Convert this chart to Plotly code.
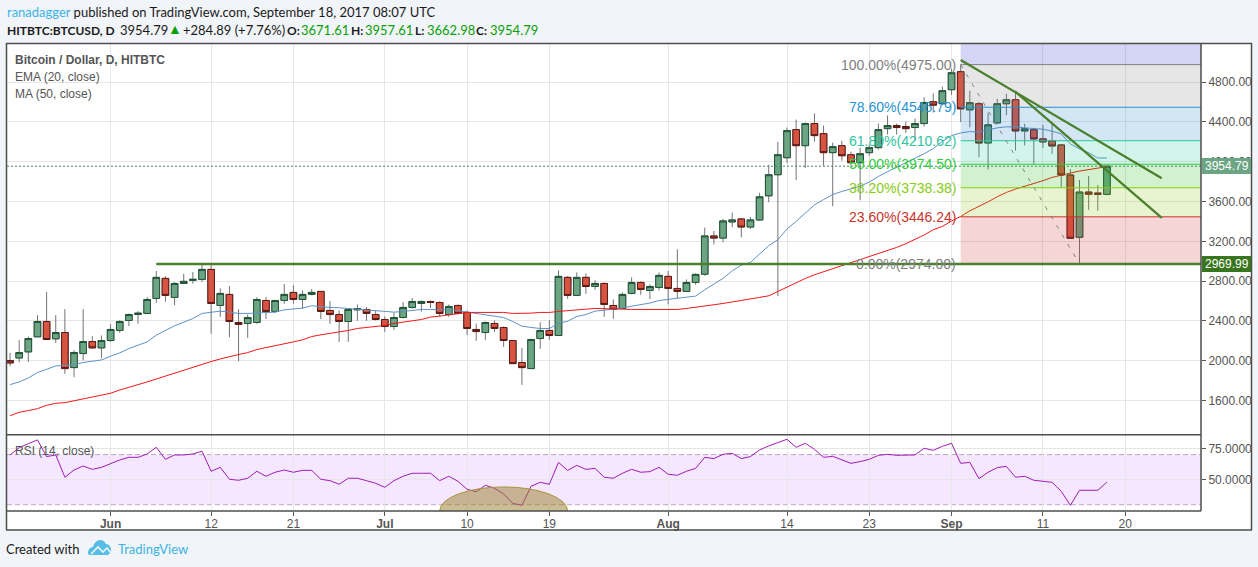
import pandas as pd
import plotly.graph_objects as go

DATES = pd.date_range("2017-05-21", "2017-09-18", freq="D").strftime("%Y-%m-%d").tolist()

OPEN = [2003,2029,2090,2241,2395,2221,2284,1932,2073,2194,2130,2204,2305,2405,2465,2476,2626,2828,2637,2777,
        2808,2818,2918,2556,2667,2385,2375,2385,2606,2496,2606,2687,2616,2667,2697,2506,2465,2395,2512,2516,
        2465,2415,2345,2435,2536,2576,2596,2586,2465,2556,2486,2315,2284,2375,2335,2204,1983,1922,2224,2305,
        2254,2838,2657,2838,2747,2777,2556,2526,2677,2787,2707,2737,2848,2727,2697,2787,2870,3254,3233,3395,
        3425,3344,3415,3657,3869,4040,4322,4161,4383,4282,4091,4161,4070,3990,4091,4141,4332,4363,4353,4343,
        4383,4602,4582,4723,4904,4521,4582,4188,4390,4582,4622,4309,4320,4229,4209,4168,3866,3241,3695,3685,3671.61]
CLOSE = [1979,2083,2224,2395,2214,2284,1922,2083,2194,2130,2204,2315,2395,2465,2479,2616,2838,2657,2777,2798,
         2818,2918,2576,2677,2395,2365,2435,2616,2496,2606,2667,2616,2667,2687,2496,2465,2395,2516,2523,2476,
         2415,2345,2435,2536,2596,2596,2586,2476,2546,2476,2325,2294,2385,2325,2204,1972,1932,2214,2305,2254,
         2848,2657,2838,2747,2777,2566,2516,2667,2787,2717,2747,2858,2727,2697,2787,2868,3254,3233,3405,3415,
         3344,3415,3647,3869,4070,4312,4161,4383,4262,4091,4151,4060,3990,4080,4141,4322,4363,4343,4332,4383,
         4595,4568,4713,4894,4531,4592,4188,4370,4582,4622,4309,4330,4229,4199,4158,3866,3231,3695,3674,3674,3954.79]
HIGH = [2080,2207,2244,2459,2690,2459,2519,2107,2519,2248,2254,2368,2408,2476,2499,2640,2902,2851,2791,2875,
        2891,2969,2969,2727,2751,2519,2465,2640,2640,2606,2771,2761,2707,2720,2697,2600,2506,2516,2566,2539,
        2506,2445,2486,2590,2630,2606,2606,2596,2566,2566,2506,2375,2395,2405,2345,2204,2127,2224,2388,2408,
        2908,2851,2888,2878,2808,2787,2616,2687,2838,2798,2767,2888,2902,3120,2818,2878,3338,3304,3425,3489,
        3435,3445,3687,3969,4201,4343,4423,4393,4484,4363,4191,4211,4101,4141,4171,4383,4464,4383,4403,4433,
        4648,4685,4753,4934,4975,4713,4602,4491,4632,4682,4713,4380,4340,4370,4380,4178,3926,3816,3856,3765,3957.61]
LOW = [1946,1986,1989,2241,2214,2180,1869,1835,2006,2120,2026,2190,2281,2348,2372,2476,2583,2593,2559,2777,
       2774,2794,2271,2442,2237,1996,2231,2372,2419,2482,2573,2573,2523,2657,2419,2372,2190,2190,2402,2402,
       2405,2291,2311,2425,2523,2492,2529,2445,2442,2465,2261,2201,2211,2291,2140,1972,1758,1922,2120,2211,
       2254,2623,2657,2673,2714,2442,2422,2516,2667,2663,2620,2707,2566,2626,2697,2764,2854,3170,3190,3341,
       3240,3324,3405,3593,2649,3986,3815,3936,4201,3959,3553,4010,3959,3613,4060,4121,4272,4272,4289,4211,
       4353,4494,4570,4672,4397,4346,4044,3923,4380,4467,4111,4162,3977,4138,4078,3745,3231,2972,3516,3506,3662.98]
EMA20 = [1761,1788,1828,1882,1915,1949,1952,1962,1983,1993,2009,2046,2080,2123,2157,2190,2258,2305,2352,2388,
         2425,2476,2489,2499,2489,2476,2476,2482,2489,2489,2512,2523,2529,2553,2543,2536,2533,2526,2523,2516,
         2506,2496,2489,2496,2509,2516,2516,2512,2509,2506,2489,2476,2462,2452,2435,2395,2348,2335,2325,2325,
         2375,2398,2445,2465,2499,2509,2516,2529,2549,2566,2580,2606,2616,2626,2637,2650,2714,2767,2828,2904,
         2961,2988,3072,3156,3217,3324,3401,3485,3566,3620,3670,3701,3727,3754,3795,3852,3899,3943,3986,4030,
         4080,4131,4205,4262,4289,4303,4296,4320,4340,4350,4350,4340,4336,4326,4306,4279,4178,4128,4091,4037,4037]
MA50 = [1449,1483,1500,1520,1553,1573,1580,1600,1620,1637,1654,1674,1707,1731,1761,1788,1818,1845,1875,1909,
        1936,1969,1993,2019,2043,2063,2083,2113,2133,2150,2170,2190,2211,2244,2261,2274,2291,2305,2325,2335,
        2341,2355,2375,2392,2402,2415,2439,2449,2459,2472,2486,2486,2486,2486,2486,2476,2476,2479,2486,2486,
        2496,2506,2516,2519,2526,2526,2526,2519,2516,2516,2516,2516,2516,2516,2526,2536,2546,2563,2576,2593,
        2606,2620,2637,2653,2697,2745,2790,2827,2864,2894,2924,2954,2985,3015,3049,3075,3109,3139,3176,3217,
        3264,3317,3350,3405,3450,3506,3550,3597,3648,3691,3725,3752,3775,3809,3842,3866,3886,3906,3923,3940,3950]
RSI14 = [69.7,75.5,78.7,81.7,68.4,69.7,51.9,57.7,60.9,58.2,59.8,63.0,65.7,67.8,67.8,70.5,75.8,66.2,69.7,69.7,
         70.5,72.6,56.7,59.8,50.3,49.5,51.1,56.7,52.7,55.9,57.7,55.9,57.4,57.4,50.3,49.2,46.3,51.1,51.1,49.2,
         47.1,43.9,49.2,52.7,55.1,55.1,55.1,49.2,52.7,48.7,42.3,40.4,45.5,43.1,38.6,31.1,29.5,44.7,47.9,46.3,
         63.8,57.4,61.4,58.2,59.0,51.9,51.1,55.1,58.2,55.9,56.4,59.8,54.3,53.5,56.7,59.0,67.8,66.8,70.2,71.0,
         66.8,68.4,73.7,76.9,79.8,82.2,75.8,79.0,74.2,67.8,68.6,65.7,63.0,64.4,66.2,69.4,70.2,69.4,69.4,69.7,
         75.0,73.4,76.6,79.0,63.0,63.8,50.8,55.9,59.6,60.6,51.9,52.7,49.5,48.7,47.9,40.7,29.5,41.5,41.5,41.5,48.1]
assert all(len(a) == 121 for a in (DATES, OPEN, CLOSE, HIGH, LOW, EMA20, MA50, RSI14))

TICK_DATES = ["2017-06-01","2017-06-12","2017-06-21","2017-07-01","2017-07-10","2017-07-19",
              "2017-08-01","2017-08-14","2017-08-23","2017-09-01","2017-09-11","2017-09-20"]
TICK_LABELS = ["<b>Jun</b>","12","21","<b>Jul</b>","10","19","<b>Aug</b>","14","23","<b>Sep</b>","11","20"]
PRICE_TICKS = [1600,2000,2400,2800,3200,3600,4000,4400,4800]
RSI_TICKS = [50,75]

FIB_RATIO = ["100.00%","78.60%","61.80%","50.00%","38.20%","23.60%","0.00%"]
FIB_LEVEL = [4975.00,4546.79,4210.62,3974.50,3738.38,3446.24,2974.00]
FIB_LINE = ["#808080","#2a93cf","#2fc4a0","#2ecc40","#85cc16","#c8352c","#808080"]
FIB_FILL = ["rgba(128,128,128,.2)","rgba(30,130,200,.2)","rgba(30,200,150,.2)","rgba(30,190,15,.2)",
            "rgba(140,195,15,.2)","rgba(205,45,45,.2)"]

W, H = 1258, 567
L, R, T, B = 7, 1201, 44, 511
def px(x): return (x - L) / (R - L)
def py(y): return (B - y) / (B - T)

X0, X1 = "2017-05-20 16:00", "2017-09-28 07:00"
UP, DOWN, UP_B, DOWN_B, WICK = "#6ba583", "#d75442", "#225437", "#5b1a13", "#737375"
GRID = "#e6e6e6"
TXT = "#555555"
AX = "Liberation Sans, Arial, sans-serif"
HDR = "Lato, sans-serif"

fig = go.Figure()
fig.add_scatter(x=DATES, y=EMA20, mode="lines", line=dict(color="#5d93c4", width=1), hoverinfo="skip")
fig.add_scatter(x=DATES, y=MA50, mode="lines", line=dict(color="#f01818", width=1), hoverinfo="skip")
fig.add_candlestick(x=DATES, open=OPEN, high=HIGH, low=LOW, close=CLOSE, whiskerwidth=0, hoverinfo="skip",
                    increasing=dict(line=dict(color=WICK, width=1), fillcolor=UP),
                    decreasing=dict(line=dict(color=WICK, width=1), fillcolor=DOWN))
fig.add_candlestick(x=DATES, open=OPEN, close=CLOSE, whiskerwidth=0, hoverinfo="skip",
                    high=[max(a, b) for a, b in zip(OPEN, CLOSE)],
                    low=[min(a, b) for a, b in zip(OPEN, CLOSE)],
                    increasing=dict(line=dict(color=UP_B, width=1), fillcolor=UP),
                    decreasing=dict(line=dict(color=DOWN_B, width=1), fillcolor=DOWN))
fig.add_scatter(x=DATES, y=RSI14, xaxis="x2", yaxis="y2", mode="lines", hoverinfo="skip",
                line=dict(color="#a01cb4", width=1))

shapes = []
def rect_px(x0, y0, x1, y1, fill, line=None, layer="below", lw=0):
    shapes.append(dict(type="rect", xref="paper", yref="paper", x0=px(x0), x1=px(x1), y0=py(y0), y1=py(y1),
                       fillcolor=fill, line=dict(color=line or fill, width=lw), layer=layer))
def line_px(x0, y0, x1, y1, color="#4d4d4d", w=1.5):
    shapes.append(dict(type="line", xref="paper", yref="paper", x0=px(x0), x1=px(x1), y0=py(y0), y1=py(y1),
                       line=dict(color=color, width=w), layer="above"))

rect_px(6, 43, 1252, 530, "#ffffff")

FIB_START = "2017-09-02"
shapes.append(dict(type="rect", xref="x", yref="y", x0=FIB_START, x1=X1, y0=FIB_LEVEL[0], y1=5400,
                   fillcolor="rgba(85,85,221,.25)", line=dict(width=0), layer="above"))
for i, fill in enumerate(FIB_FILL):
    shapes.append(dict(type="rect", xref="x", yref="y", x0=FIB_START, x1=X1, y0=FIB_LEVEL[i+1], y1=FIB_LEVEL[i],
                       fillcolor=fill, line=dict(width=0), layer="above"))
for lv, c in zip(FIB_LEVEL, FIB_LINE):
    shapes.append(dict(type="line", xref="x", yref="y", x0=FIB_START, x1=X1, y0=lv, y1=lv,
                       line=dict(color=c, width=1), layer="above"))
shapes.append(dict(type="line", xref="x", yref="y", x0=FIB_START, x1="2017-09-15", y0=FIB_LEVEL[0], y1=FIB_LEVEL[-1],
                   line=dict(color="#808080", width=1, dash="4px,7px"), layer="above"))

LAST_CLOSE = CLOSE[-1]
shapes.append(dict(type="line", xref="x", yref="y", x0=X0, x1=X1, y0=LAST_CLOSE, y1=LAST_CLOSE,
                   line=dict(color="#3f8a5e", width=1, dash="2px,2px"), layer="above"))

SUPPORT = 2972
shapes.append(dict(type="line", xref="x", yref="y", x0="2017-06-06", x1=X1, y0=SUPPORT, y1=SUPPORT,
                   line=dict(color="#4a7f2c", width=2.5), layer="above"))
TREND_DATES = [("2017-09-02", 5021, "2017-09-24", 3834), ("2017-09-08", 4702, "2017-09-24", 3435)]
for a, b, c, d in TREND_DATES:
    shapes.append(dict(type="line", xref="x", yref="y", x0=a, x1=c, y0=b, y1=d,
                       line=dict(color="#4a7f2c", width=2.2), layer="above"))

shapes.append(dict(type="rect", xref="x2 domain", yref="y2", x0=0, x1=1, y0=30, y1=70,
                   fillcolor="rgba(153,21,255,.1)", line=dict(width=0), layer="below"))
for lv in (30, 70):
    shapes.append(dict(type="line", xref="x2 domain", yref="y2", x0=0, x1=1, y0=lv, y1=lv,
                       line=dict(color="#b9aabd", width=1, dash="5px,3px"), layer="below"))
shapes.append(dict(type="circle", xref="x2", yref="y2", x0="2017-07-07", x1="2017-07-21", y0=5.8, y1=44.2,
                   fillcolor="rgba(153,125,40,.5)", line=dict(color="#a8943a", width=1), layer="above"))

line_px(6, 43.5, 1252, 43.5); line_px(6, 530, 1252, 530)
line_px(6.5, 43, 6.5, 530); line_px(1251.5, 43, 1251.5, 530)
line_px(1201, 43, 1201, 511); line_px(6, 434.7, 1201, 434.7); line_px(6, 511, 1201, 511)

rect_px(1202, 158, 1251, 174, UP, layer="above")
rect_px(1202, 256, 1251, 272, "#38761d", layer="above")

anns = []
def text(x, y, s, color=TXT, size=12, font=AX, anchor="left"):
    anns.append(dict(xref="paper", yref="paper", x=px(x), y=py(y), text=s, showarrow=False, xanchor=anchor,
                     yanchor="middle", font=dict(color=color, size=size, family=font), borderpad=0, borderwidth=0))

for r, lv, c in zip(FIB_RATIO, FIB_LEVEL, FIB_LINE):
    anns.append(dict(xref="x", yref="y", x=FIB_START, y=lv, text=f"{r}({lv:.2f})", showarrow=False, xanchor="right",
                     yanchor="middle", xshift=-3, font=dict(color=c, size=14, family=AX)))

text(1227, 166, f"{LAST_CLOSE:.2f}", "#ffffff", anchor="center")
text(1227, 264, "2969.99", "#ffffff", anchor="center")
text(15, 60, "<b>Bitcoin / Dollar, D, HITBTC</b>")
text(15, 77, "EMA (20, close)")
text(15, 94, "MA (50, close)")
text(15, 451, "RSI (14, close)")

K = "#1a1a1a"
G = "#0aa00a"
text(7, 12, "<span style='color:#3bb3e4'>ranadagger</span> published on TradingView.com, September 18, 2017 08:07 UTC",
     K, 13, HDR)
text(7, 30, "<b>HITBTC:BTCUSD, D</b>", K, 12, HDR)
text(120, 30, "3954.79", K, 13, HDR)
text(175, 29, "▲", G, 14, HDR, anchor="center")
text(183, 30, "+284.89 (+7.76%)", K, 13, HDR)
text(287, 30, "<b>O:</b>", K, 12, HDR)
text(301, 30, "3671.61", G, 13, HDR)
text(351, 30, "<b>H:</b>", K, 12, HDR)
text(365, 30, "3957.61", G, 13, HDR)
text(415, 30, "<b>L:</b>", K, 12, HDR)
text(427, 30, "3662.98", G, 13, HDR)
text(476, 30, "<b>C:</b>", K, 12, HDR)
text(490, 30, "3954.79", G, 13, HDR)
text(6, 549, "Created with", K, 13, HDR)
text(118, 549, "TradingView", "#3bb3e4", 13, HDR)

shapes.append(dict(type="path", xref="paper", yref="paper", xsizemode="pixel", ysizemode="pixel",
                   xanchor=px(88), yanchor=py(555),
                   path="M0,2 C0,6 3,8 5,8 C6,12 9,15 12,15 C15,15 17,13 18,11 C21,11 23,8 23,5 C23,2 21,0 18,0 L3,0 C1,0 0,0 0,2 Z",
                   fillcolor="#55bde6", line=dict(width=0), layer="above"))
shapes.append(dict(type="path", xref="paper", yref="paper", xsizemode="pixel", ysizemode="pixel",
                   xanchor=px(88), yanchor=py(555),
                   path="M3,1 L10,8 L15,3 L19,7 L23,2",
                   line=dict(color="#f1f4f8", width=1.6), layer="above"))

common_x = dict(type="date", range=[X0, X1], tickmode="array", tickvals=TICK_DATES, showgrid=True, gridcolor=GRID,
                gridwidth=1, zeroline=False, rangeslider=dict(visible=False), showline=False)
fig.update_layout(
    width=W, height=H, autosize=False, showlegend=False, hovermode=False,
    margin=dict(l=L, r=W-R, t=T, b=H-B, pad=0),
    paper_bgcolor="#f1f4f8", plot_bgcolor="rgba(0,0,0,0)", boxmode="overlay", boxgap=0.28, boxgroupgap=0,
    xaxis=dict(common_x, anchor="y", showticklabels=False, ticks=""),
    xaxis2=dict(common_x, anchor="y2", ticktext=TICK_LABELS, ticks="outside", ticklen=4, tickcolor="#555555",
                ticklabelstandoff=-2, tickfont=dict(family=AX, size=12, color=TXT)),
    yaxis=dict(domain=[(B-434.7)/(B-T), 1], range=[1258, 5182], side="right", anchor="x", tickmode="array",
               tickvals=PRICE_TICKS, ticktext=[f"{v:.2f}" for v in PRICE_TICKS], ticks="outside", ticklen=4,
               tickcolor="#555555", gridcolor=GRID, zeroline=False, tickfont=dict(family=AX, size=12, color=TXT)),
    yaxis2=dict(domain=[0, (B-434.7)/(B-T)], range=[25, 85.85], side="right", anchor="x2", tickmode="array",
                tickvals=RSI_TICKS, ticktext=[f"{v:.4f}" for v in RSI_TICKS], ticks="outside", ticklen=4,
                tickcolor="#555555", gridcolor=GRID, zeroline=False, tickfont=dict(family=AX, size=12, color=TXT)),
    shapes=shapes, annotations=anns,
)
fig.write_html("out.html", config={"displayModeBar": False},
               post_script="document.body.style.margin='0';document.body.style.background='#f1f4f8';"
                           "window.dispatchEvent(new Event('resize'));")
